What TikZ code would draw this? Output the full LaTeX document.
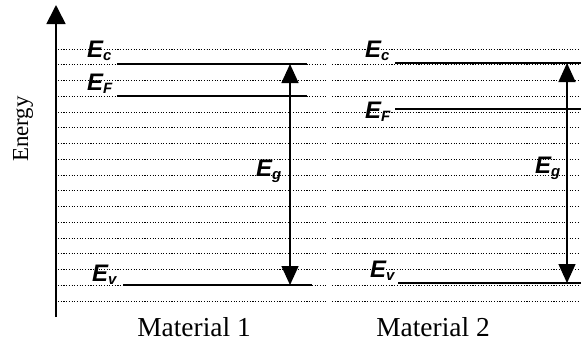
\documentclass[tikz,border=0pt]{standalone}
\usepackage{fontspec}
\setmainfont{Liberation Serif}
\newfontfamily\levfont{Liberation Sans}
\usepackage{tikz}
\usetikzlibrary{arrows.meta,positioning,calc}

\newcommand{\lev}[1]{{\levfont\bfseries\itshape\fontsize{24}{24}\selectfont E\raisebox{-3bp}{\fontsize{15}{15}\selectfont #1}}}

\begin{document}
\begin{tikzpicture}[x=1bp, y=1bp,
  grid/.style={line width=1bp, dash pattern=on 1.1bp off 1.6bp},
  level/.style={line width=1.5bp},
  gap/.style={line width=1.4bp, {Triangle[length=19bp,width=17bp]}-{Triangle[length=19bp,width=17bp]}},
  levlabel/.style={anchor=base west, inner sep=0pt},
  matlabel/.style={font=\fontsize{27.5}{27.5}\selectfont}
]
  \useasboundingbox (0,0) rectangle (581,-342);

  % dotted background levels
  \foreach \i in {0,...,16} {
    \draw[grid] (58,{-49-15.75*\i}) -- (327,{-49-15.75*\i});
    \draw[grid] (332,{-49-15.75*\i}) -- (578,{-49-15.75*\i});
  }

  % energy axis
  \coordinate (axbot) at (56,-317);
  \coordinate (axtop) at (56,-5);
  \draw[line width=1.7bp, -{Triangle[length=19bp,width=19bp]}] (axbot) -- (axtop);
  \node[rotate=90, font=\fontsize{23}{23}\selectfont] (energy) at (23,-129) {Energy};

  % material 1
  \coordinate (ec1a) at (117,-64);  \coordinate (ec1b) at (307,-64);
  \coordinate (ef1a) at (117,-96);  \coordinate (ef1b) at (307,-96);
  \coordinate (ev1a) at (123,-285); \coordinate (ev1b) at (312,-285);
  \draw[level] (ec1a) -- (ec1b);
  \draw[level] (ef1a) -- (ef1b);
  \draw[level] (ev1a) -- (ev1b);
  \coordinate (g1top) at (290,-64);
  \coordinate (g1bot) at (290,-285);
  \draw[gap] (g1bot) -- (g1top);
  \node[levlabel] (ec1) at (87,-57) {\lev{c}};
  \node[levlabel] (ef1) at (87,-90) {\lev{F}};
  \node[levlabel] (ev1) at (92,-281) {\lev{v}};
  \node[levlabel] (eg1) at (256,-176) {\lev{g}};
  \node[matlabel] (mat1) at (194,-327) {Material 1};

  % material 2
  \coordinate (ec2a) at (395,-63);  \coordinate (ec2b) at (581,-63);
  \coordinate (ef2a) at (395,-109); \coordinate (ef2b) at (581,-109);
  \coordinate (ev2a) at (398,-283); \coordinate (ev2b) at (581,-283);
  \draw[level] (ec2a) -- (ec2b);
  \draw[level] (ef2a) -- (ef2b);
  \draw[level] (ev2a) -- (ev2b);
  \coordinate (g2top) at (567,-63);
  \coordinate (g2bot) at (567,-283);
  \draw[gap] (g2bot) -- (g2top);
  \node[levlabel] (ec2) at (365,-57) {\lev{c}};
  \node[levlabel] (ef2) at (365,-118) {\lev{F}};
  \node[levlabel] (ev2) at (370,-277) {\lev{v}};
  \node[levlabel] (eg2) at (535,-173) {\lev{g}};
  \node[matlabel] (mat2) at (433,-327) {Material 2};
\end{tikzpicture}
\end{document}
